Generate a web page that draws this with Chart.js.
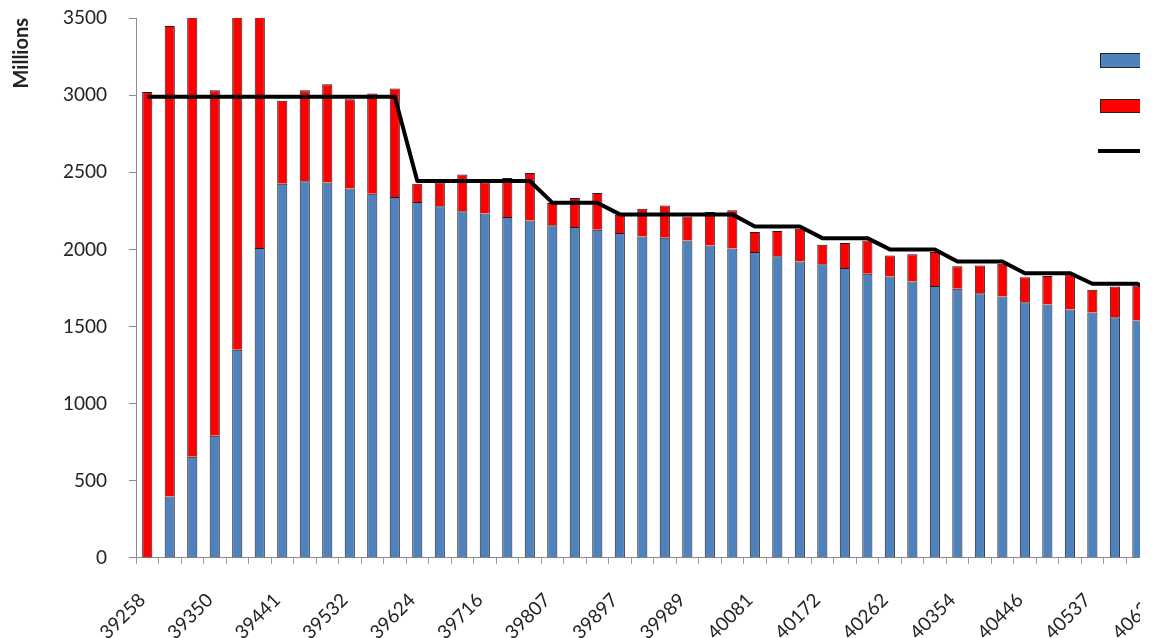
<!DOCTYPE html>
<html>
<head>
<meta charset="utf-8">
<title>Stacked bars with step line</title>
<script src="https://cdn.jsdelivr.net/npm/chart.js@4.4.0/dist/chart.umd.min.js"></script>
<style>
  html, body { margin: 0; padding: 0; background: #fff; overflow: hidden; }
  /* the reference is a cropped screenshot, so the chart is clipped on the right */
  #frame { position: relative; width: 1140px; height: 638px; overflow: hidden; background: #fff; }
  #c { position: absolute; left: 0; top: 0; }
  #legend { position: absolute; left: 1100px; top: 53px; font: 19px Lato, sans-serif; color: #222; white-space: nowrap; }
  #legend .item { position: relative; height: 46px; }
  #legend .sw { display: inline-block; width: 46px; box-sizing: border-box; border: 1px solid #222; vertical-align: top; margin-right: 8px; }
</style>
</head>
<body>
<div id="frame">
  <canvas id="c" width="1201" height="670"></canvas>
  <div id="legend"></div>
</div>
<script>
// categories: Excel date serials (25th of each month, Jun 2007 - Mar 2011)
const dateLabels = [
  39258, 39288, 39319, 39350, 39380, 39411, 39441,
  39472, 39503, 39532, 39563, 39593, 39624, 39654, 39685, 39716, 39746, 39777, 39807,
  39838, 39869, 39897, 39928, 39958, 39989, 40019, 40050, 40081, 40111, 40142, 40172,
  40203, 40234, 40262, 40293, 40323, 40354, 40384, 40415, 40446, 40476, 40507, 40537,
  40568, 40599, 40627
];

const seriesNames = ['Series1', 'Series2', 'Series3'];

// lower (blue) part of each bar
const blueValues = [
  0, 398, 656, 792, 1349, 2009, 2426, 2442, 2433, 2394, 2361, 2340,
  2307, 2279, 2247, 2232, 2210, 2188, 2156, 2145, 2128, 2106, 2084, 2076,
  2058, 2026, 2005, 1983, 1955, 1922, 1903, 1879, 1842, 1825, 1792, 1762,
  1745, 1716, 1695, 1658, 1643, 1610, 1591, 1560, 1539, null
];

// upper (red) part of each bar
const redValues = [
  3021, 3050, 3064, 2240, 2451, 1641, 537, 590, 638, 580, 650, 703,
  119, 154, 238, 201, 253, 308, 144, 188, 238, 119, 180, 208,
  156, 216, 248, 129, 164, 212, 127, 162, 216, 136, 176, 221,
  145, 180, 212, 162, 184, 228, 147, 200, 227, null
];

// black step line
const lineValues = [
  2990, 2990, 2990, 2990, 2990, 2990, 2990, 2990, 2990, 2990, 2990, 2990,
  2443, 2443, 2443, 2443, 2443, 2443, 2303, 2303, 2303,
  2227, 2227, 2227, 2227, 2227, 2227, 2149, 2149, 2149,
  2073, 2073, 2073, 2000, 2000, 2000, 1922, 1922, 1922,
  1846, 1846, 1846, 1777, 1777, 1777, 1700
];

const yTicks = { min: 0, max: 3500, step: 500 };

const BLUE = '#4F81BD';
const RED = '#FF0000';
const EDGE = '#1c1c1c';
const AXIS = '#8c8c8c';
const tickFont = { family: 'Lato', size: 19 };

new Chart(document.getElementById('c'), {
  type: 'bar',
  data: {
    labels: dateLabels,
    datasets: [
      {
        type: 'line',
        label: seriesNames[2],
        data: lineValues,
        borderColor: '#000',
        borderWidth: 4,
        pointRadius: 0,
        tension: 0,
        borderJoinStyle: 'round',
        stack: 'line',
        order: 0
      },
      {
        label: seriesNames[0],
        data: blueValues,
        backgroundColor: BLUE,
        borderColor: EDGE,
        borderWidth: 1,
        stack: 'bars',
        order: 1
      },
      {
        label: seriesNames[1],
        data: redValues,
        backgroundColor: RED,
        borderColor: EDGE,
        borderWidth: 1,
        stack: 'bars',
        order: 2
      }
    ]
  },
  options: {
    responsive: false,
    animation: false,
    layout: { padding: { top: 18, bottom: 1, left: 0, right: 0 } },
    datasets: { bar: { categoryPercentage: 1, barPercentage: 0.45 } },
    plugins: {
      legend: { display: false },
      tooltip: { enabled: false }
    },
    scales: {
      x: {
        stacked: true,
        grid: { drawOnChartArea: false, tickLength: 6, color: '#9a9a9a', offset: true },
        border: { color: AXIS },
        ticks: {
          autoSkip: false,
          minRotation: 45,
          maxRotation: 45,
          padding: 25,
          labelOffset: -5,
          color: '#222',
          font: tickFont,
          callback: (v, i) => (i % 3 === 0 ? String(dateLabels[i]) : '')
        }
      },
      y: {
        stacked: true,
        min: yTicks.min,
        max: yTicks.max,
        ticks: {
          stepSize: yTicks.step,
          padding: 22,
          color: '#222',
          font: tickFont,
          callback: (v) => String(v)
        },
        grid: { drawOnChartArea: false, tickLength: 7, color: AXIS },
        border: { color: AXIS },
        title: {
          display: true,
          text: 'Millions',
          align: 'end',
          color: '#222',
          font: { family: 'Lato', size: 20, weight: 'bold' },
          padding: { top: 10, bottom: 0 }
        },
        afterFit: (scale) => {
          scale.width = 136;
          // the label padding should not push the plot top down
          scale.paddingTop = 11;
          scale.paddingBottom = 11;
        }
      }
    }
  }
});

// legend (its labels run past the cropped edge, as in the reference)
const legend = document.getElementById('legend');
legend.innerHTML =
  `<div class="item"><span class="sw" style="background:${BLUE};height:15px"></span>${seriesNames[0]}</div>` +
  `<div class="item"><span class="sw" style="background:${RED};height:14px"></span>${seriesNames[1]}</div>`;
const lineItem = document.createElement('div');
lineItem.style.position = 'absolute';
lineItem.style.left = '-2px';
lineItem.style.top = '84px';
lineItem.innerHTML = `<span style="display:inline-block;width:48px;height:4px;background:#000;vertical-align:middle;margin-right:8px"></span>${seriesNames[2]}`;
legend.appendChild(lineItem);
</script>
</body>
</html>
